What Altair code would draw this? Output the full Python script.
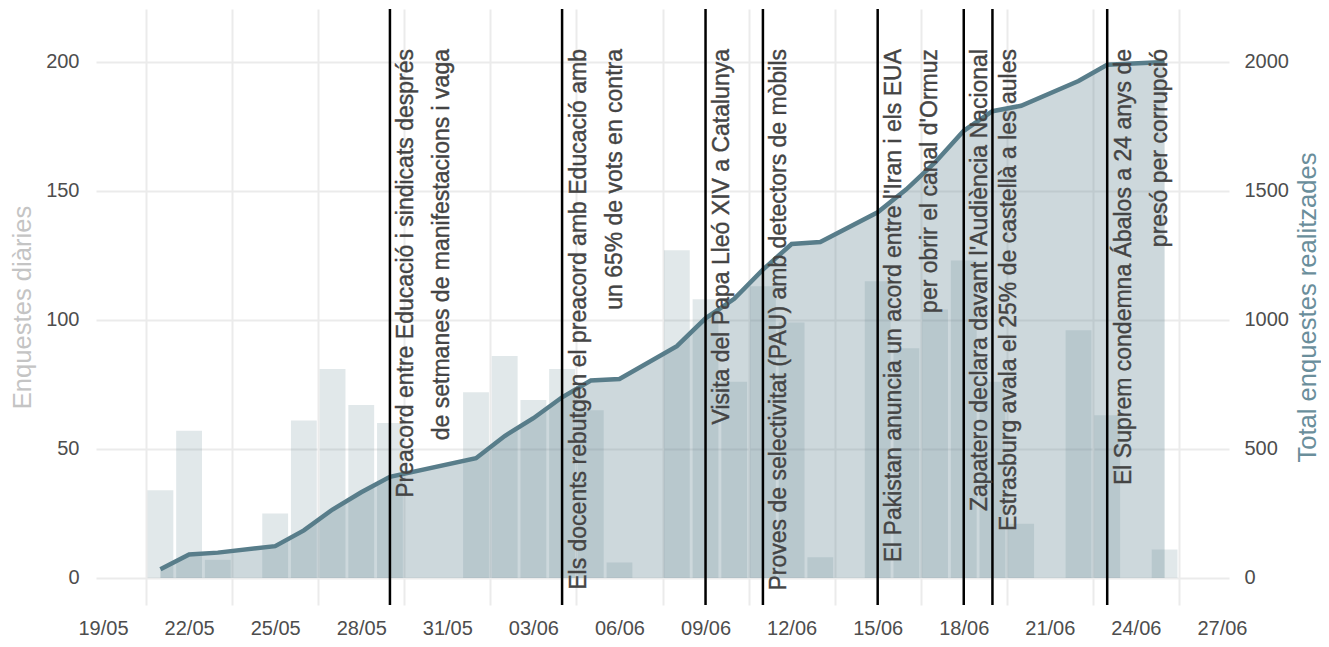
import altair as alt
import pandas as pd

# ---- data ----
days = ["2026-05-21", "2026-05-22", "2026-05-23", "2026-05-25", "2026-05-26", "2026-05-27",
        "2026-05-28", "2026-05-29", "2026-06-01", "2026-06-02", "2026-06-03", "2026-06-04",
        "2026-06-05", "2026-06-06", "2026-06-08", "2026-06-09", "2026-06-10", "2026-06-11",
        "2026-06-12", "2026-06-13", "2026-06-15", "2026-06-16", "2026-06-17", "2026-06-18",
        "2026-06-19", "2026-06-20", "2026-06-22", "2026-06-23", "2026-06-25"]
daily = [34, 57, 7, 25, 61, 81,
         67, 60, 72, 86, 69, 81,
         65, 6, 127, 108, 76, 113,
         99, 8, 115, 89, 104, 123,
         76, 21, 96, 63, 11]

event_dates = ["2026-05-29", "2026-06-04", "2026-06-09", "2026-06-11",
               "2026-06-15", "2026-06-18", "2026-06-19", "2026-06-23"]
event_labels = [
    "Preacord entre Educació i sindicats després\nde setmanes de manifestacions i vaga",
    "Els docents rebutgen el preacord amb Educació amb\nun 65% de vots en contra",
    "Visita del Papa Lleó XIV a Catalunya",
    "Proves de selectivitat (PAU) amb detectors de mòbils",
    "El Pakistan anuncia un acord entre l'Iran i els EUA\nper obrir el canal d'Ormuz",
    "Zapatero declara davant l'Audiència Nacional",
    "Estrasburg avala el 25% de castellà a les aules",
    "El Suprem condemna Ábalos a 24 anys de\npresó per corrupció",
]

label_days = [(5, 19), (5, 22), (5, 25), (5, 28), (5, 31), (6, 3), (6, 6),
              (6, 9), (6, 12), (6, 15), (6, 18), (6, 21), (6, 24), (6, 27)]
grid_days = [(5, 20), (5, 23), (5, 26), (5, 29), (6, 1), (6, 4), (6, 7),
             (6, 10), (6, 13), (6, 16), (6, 19), (6, 22), (6, 25)]

left_ticks = [0, 50, 100, 150, 200]
right_ticks = [0, 500, 1000, 1500, 2000]

# ---- styles ----
FONT = "Liberation Sans"
STEEL = "#587d8a"
GRID = "#ebebeb"
TXT = "#4d4d4d"
ANN = "#444444"

df = pd.DataFrame({"date": [d + "T00:00:00" for d in days], "n": daily})
ev = pd.DataFrame({"date": [d + "T00:00:00" for d in event_dates], "label": event_labels})

x_scale = alt.Scale(
    domain=[alt.DateTime(year=2026, month=5, date=18, hours=18, minutes=7),
            alt.DateTime(year=2026, month=6, date=27, hours=5, minutes=53)],
    nice=False,
)

label_axis = alt.Axis(
    values=[alt.DateTime(year=2026, month=m, date=d) for m, d in label_days],
    format="%d/%m", grid=False, ticks=False, domain=False,
    labelFont=FONT, labelFontSize=20, labelColor=TXT, labelPadding=13,
    labelFlush=False, labelOverlap=False, title=None, orient="bottom",
)
grid_axis = alt.Axis(
    values=[alt.DateTime(year=2026, month=m, date=d, hours=12) for m, d in grid_days],
    grid=True, gridColor=GRID, gridWidth=2, labels=False, ticks=False,
    domain=False, title=None, orient="top",
)

left_axis = alt.Axis(
    values=left_ticks, grid=True, gridColor=GRID, gridWidth=2, ticks=False, domain=False,
    labelFont=FONT, labelFontSize=20, labelColor=TXT, labelPadding=17,
    title="Enquestes diàries", titleFont=FONT, titleFontSize=25.6,
    titleFontWeight="normal", titleColor="#c4c4c4", titlePadding=10, orient="left",
)
right_axis = alt.Axis(
    values=right_ticks, format="d", grid=False, ticks=False, domain=False,
    labelFont=FONT, labelFontSize=20, labelColor=TXT, labelPadding=15,
    title="Total enquestes realitzades", titleFont=FONT, titleFontSize=25.6,
    titleFontWeight="normal", titleColor="#6a8e9b", titlePadding=7,
    titleAngle=270, titleBaseline="top", orient="right",
)

y_left = alt.Scale(domain=[-10.5, 220.5], nice=False, zero=False)
y_right = alt.Scale(domain=[-105, 2205], nice=False, zero=False)

bars = alt.Chart(df).transform_calculate(
    start="time(toDate(datum.date)) - 0.45*86400000",
    end="time(toDate(datum.date)) + 0.45*86400000",
).mark_bar(color=STEEL, opacity=0.18).encode(
    x=alt.X("start:T", scale=x_scale, axis=label_axis),
    x2="end:T",
    y=alt.Y("n:Q", scale=y_left, axis=left_axis),
    y2=alt.Y2Datum(0),
)

cum = alt.Chart(df).transform_window(
    total="sum(n)", frame=[None, 0], sort=[{"field": "date"}]
)
xr = alt.X("date:T", scale=x_scale, axis=grid_axis)
yr = alt.Y("total:Q", scale=y_right, axis=right_axis)

area = cum.mark_area(color=STEEL, opacity=0.3).encode(x=xr, y=yr)
line = cum.mark_line(color=STEEL, strokeWidth=4.5).encode(x=xr, y=yr)

rules = alt.Chart(ev).mark_rule(color="black", strokeWidth=2.5).encode(x=xr)
texts = alt.Chart(ev).mark_text(
    angle=270, align="right", baseline="top", dy=5.5, lineBreak="\n",
    lineHeight=36, fontSize=23, font=FONT, color=ANN, stroke=ANN, strokeWidth=0.4,
).encode(
    x=xr,
    y=alt.YDatum(2050, scale=y_right, axis=right_axis),
    text="label:N",
)

right_group = alt.layer(area, line, rules, texts)

chart = alt.layer(bars, right_group).resolve_scale(
    y="independent"
).resolve_axis(
    x="independent", y="independent"
).properties(
    width=1133, height=596,
    autosize=alt.AutoSizeParams(type="none"),
    padding={"left": 88, "top": 1, "right": 92, "bottom": 34},
    background="white",
).configure_view(stroke=None)

chart.save("out.html", embed_options={"renderer": "svg", "actions": False})
